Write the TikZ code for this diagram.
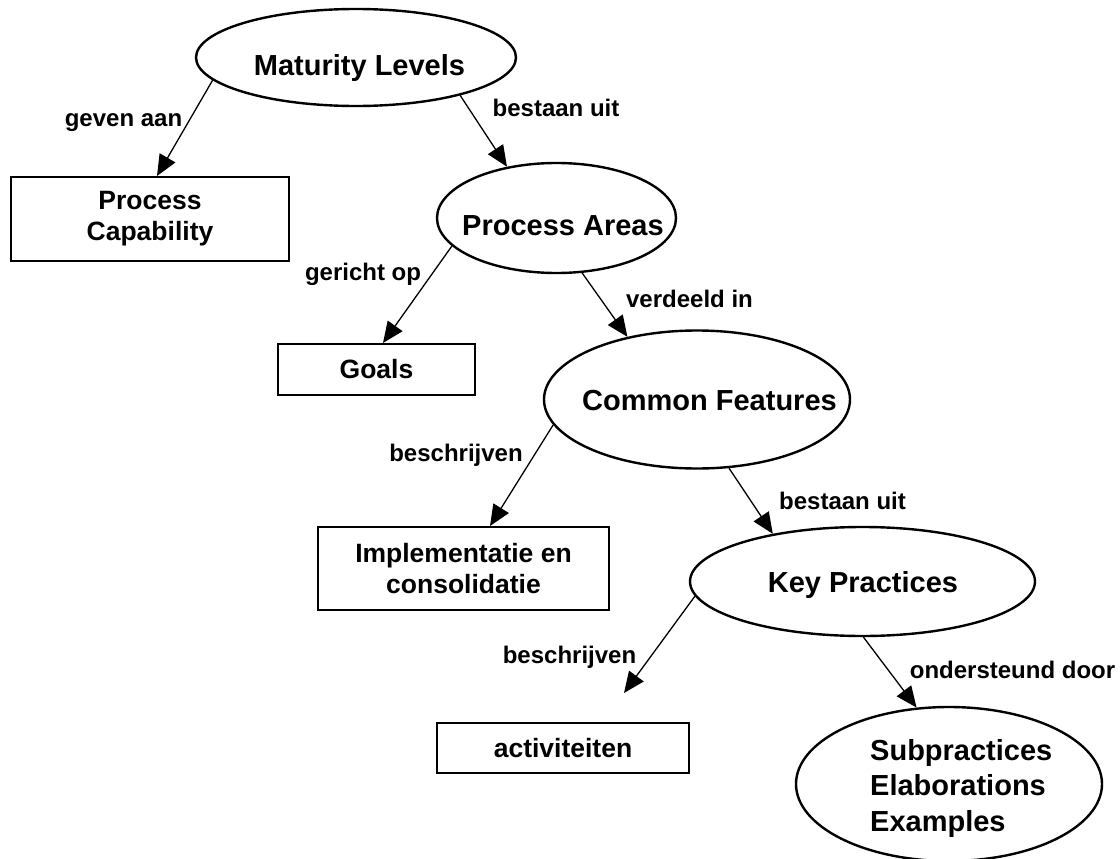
\documentclass[tikz,border=0pt]{standalone}
\usepackage{fontspec}
\setmainfont{Liberation Sans}
\usetikzlibrary{arrows.meta,shapes.geometric}
\begin{document}
\begin{tikzpicture}[x=1pt,y=-1pt,
  ell/.style={ellipse,draw,line width=2.4pt,inner sep=0pt},
  box/.style={rectangle,draw,line width=2pt,inner sep=0pt,align=center,
    font=\fontsize{26.5}{31}\selectfont\bfseries},
  etext/.style={font=\fontsize{29}{35.5}\selectfont\bfseries,inner sep=0pt},
  lbl/.style={font=\fontsize{24}{28}\selectfont\bfseries,inner sep=0pt,anchor=base},
  arr/.style={-{Triangle[length=21pt,width=18pt]},line width=1.3pt}]
\useasboundingbox (0,0) rectangle (1120,859);

% ellipses
\node[ell,minimum width=320pt,minimum height=97pt] (ml) at (356,57.5) {};
\node[etext,anchor=base] (mlt) at (359.5,76) {Maturity Levels};
\node[ell,minimum width=239pt,minimum height=110pt] (pa) at (556.5,218) {};
\node[etext,anchor=base] (pat) at (563,235) {Process Areas};
\node[ell,minimum width=306pt,minimum height=138pt] (cf) at (697,399.5) {};
\node[etext,anchor=base] (cft) at (709.5,410) {Common Features};
\node[ell,minimum width=345pt,minimum height=109pt] (kp) at (862.5,581.5) {};
\node[etext,anchor=base] (kpt) at (863,592) {Key Practices};
\node[ell,minimum width=306pt,minimum height=154pt] (sub) at (949,784) {};
\node[etext,align=left,anchor=west] (subt) at (870,788) {Subpractices\\Elaborations\\Examples};

% boxes
\node[box,minimum width=278pt,minimum height=84pt] (pc) at (150,219) {Process\\Capability};
\node[box,minimum width=197pt,minimum height=51pt] (goals) at (376.5,369.5) {Goals};
\node[box,minimum width=291pt,minimum height=83pt] (impl) at (463.5,568.5) {Implementatie en\\consolidatie};
\node[box,minimum width=252pt,minimum height=50pt] (act) at (563,748) {activiteiten};

\coordinate (actarr) at (624,693);

% connectors
\draw[arr] (ml.189) -- ([xshift=7pt]pc.north);
\draw[arr] (ml.340) -- (pa.134);
\draw[arr] (pa.195) -- ([xshift=6.5pt]goals.north);
\draw[arr] (pa.295) -- (cf.138);
\draw[arr] (cf.190) -- ([xshift=26.5pt]impl.north);
\draw[arr] (cf.295) -- (kp.152);
\draw[arr] (kp.185) -- (actarr);
\draw[arr] (kp.271) -- (sub.113);

% labels
\node[lbl] (l1) at (123.5,126) {geven aan};
\node[lbl] (l2) at (556,117) {bestaan uit};
\node[lbl] (l3) at (363,280) {gericht op};
\node[lbl] (l4) at (689.5,307) {verdeeld in};
\node[lbl] (l5) at (456,461) {beschrijven};
\node[lbl] (l6) at (842.5,509) {bestaan uit};
\node[lbl] (l7) at (569.5,663) {beschrijven};
\node[lbl] (l8) at (1012.5,678) {ondersteund door};
\end{tikzpicture}
\end{document}
